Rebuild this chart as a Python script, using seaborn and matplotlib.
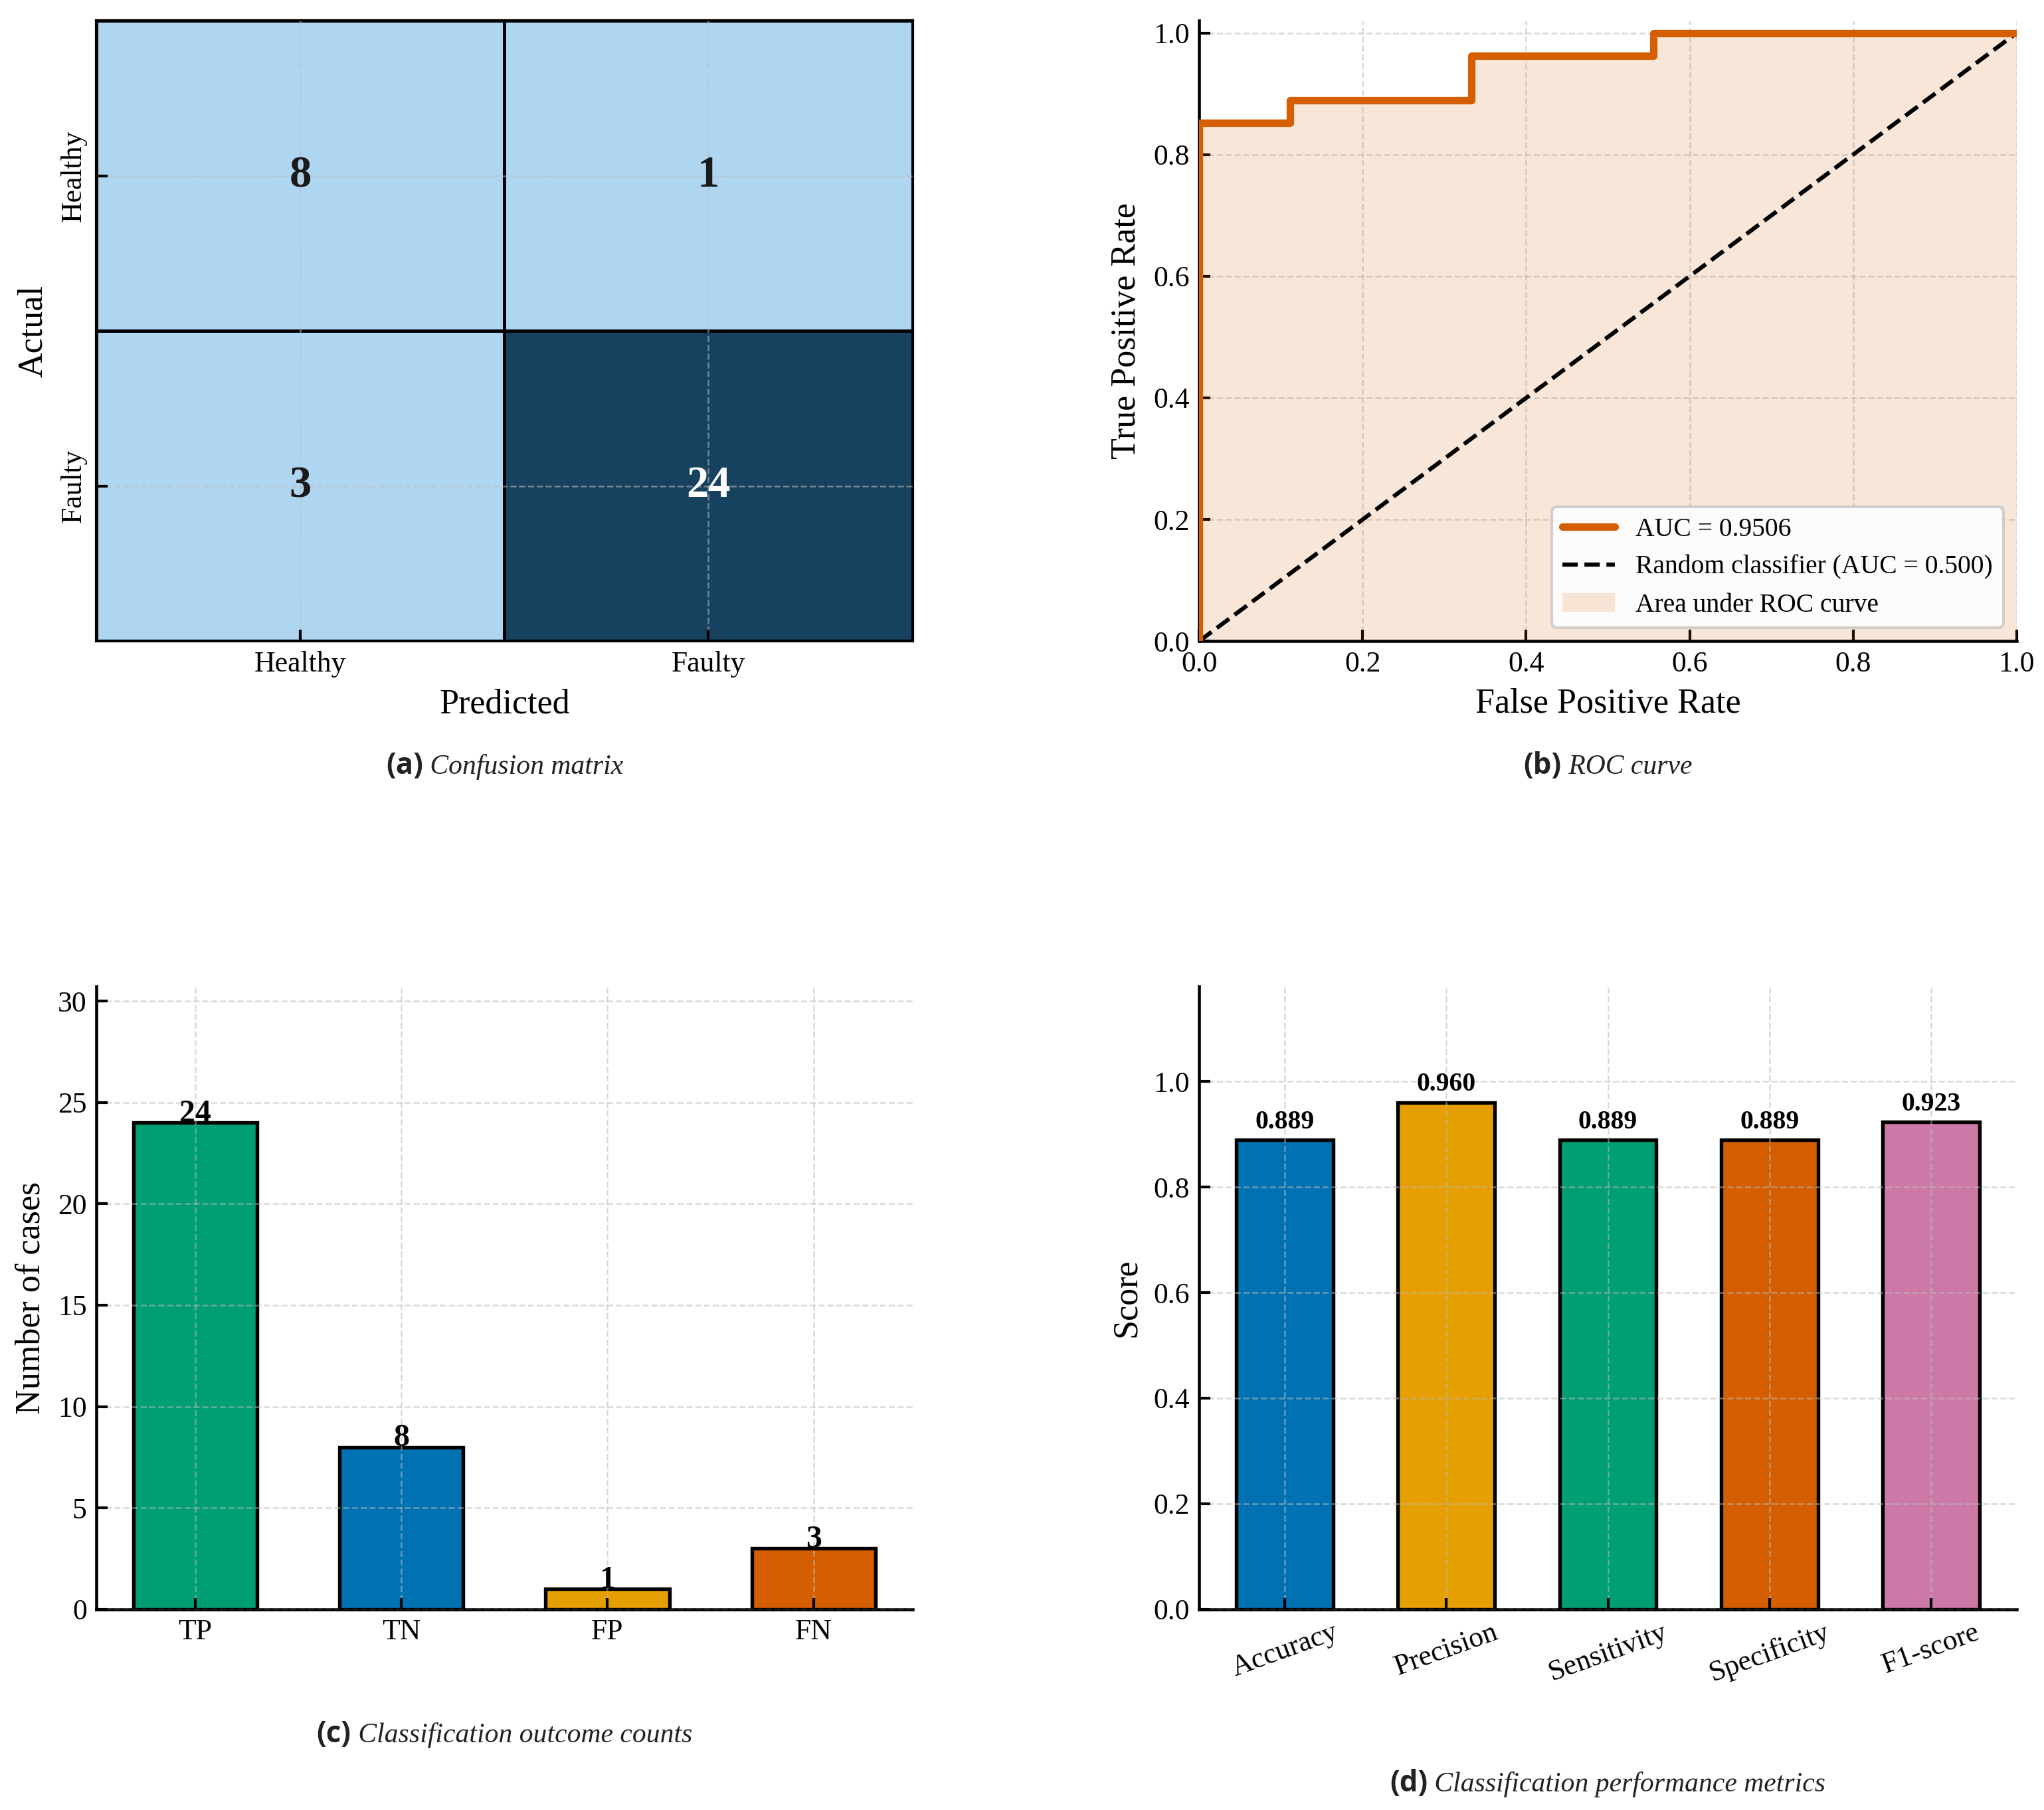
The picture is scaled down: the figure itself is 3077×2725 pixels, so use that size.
import numpy as np
import pandas as pd
import matplotlib
matplotlib.use("Agg")
import matplotlib.pyplot as plt
import seaborn as sns
from matplotlib.colors import ListedColormap

# ---------------- data ----------------
classes = ["Healthy", "Faulty"]
cm_values = [[8, 1], [3, 24]]

fpr = [0.0, 0.0, 0.1111, 0.1111, 0.3333, 0.3333, 0.5556, 0.5556, 1.0]
tpr = [0.0, 0.8519, 0.8519, 0.8889, 0.8889, 0.9630, 0.9630, 1.0, 1.0]
auc_label = "AUC = 0.9506"
random_label = "Random classifier (AUC = 0.500)"
area_label = "Area under ROC curve"

outcome_labels = ["TP", "TN", "FP", "FN"]
outcome_counts = [24, 8, 1, 3]

metric_labels = ["Accuracy", "Precision", "Sensitivity", "Specificity", "F1-score"]
metric_values = [0.889, 0.960, 0.889, 0.889, 0.923]

captions = [("(a)", "Confusion matrix"), ("(b)", "ROC curve"),
            ("(c)", "Classification outcome counts"),
            ("(d)", "Classification performance metrics")]

# ---------------- style ----------------
BLUE, ORANGE, GREEN, VERM, PINK = "#0072B2", "#E69F00", "#009E73", "#D55E00", "#CC79A7"
sns.set_style("ticks")
plt.rcParams.update({
    "font.family": ["Liberation Serif", "DejaVu Serif"],
    "xtick.direction": "in", "ytick.direction": "in",
    "xtick.major.size": 4, "ytick.major.size": 4,
    "xtick.major.width": 1.0, "ytick.major.width": 1.0,
    "axes.linewidth": 1.1, "axes.edgecolor": "black",
    "xtick.color": "black", "ytick.color": "black",
    "xtick.labelsize": 10.5, "ytick.labelsize": 10.5,
    "axes.labelsize": 12.5, "axes.labelcolor": "black",
    "text.color": "black",
})

W_PX, H_PX = 3077, 2725
fig = plt.figure(figsize=(W_PX / 300, H_PX / 300), dpi=300)

axA = fig.add_axes([0.0472, 0.6458, 0.3992, 0.3427])
axB = fig.add_axes([0.5867, 0.6458, 0.3999, 0.3427])
axC = fig.add_axes([0.0472, 0.1109, 0.3992, 0.3441])
axD = fig.add_axes([0.5867, 0.1109, 0.3999, 0.3441])

grid_kw = dict(linestyle="--", linewidth=0.6, color="#bbbbbb", alpha=0.55)

# ---------------- (a) confusion matrix ----------------
cm_df = pd.DataFrame(cm_values, index=classes, columns=classes)
cmap = ListedColormap(["#AED6F1", "#17425F"])
sns.heatmap(cm_df, annot=True, fmt="d", cmap=cmap, cbar=False, vmin=1, vmax=24,
            linewidths=1.1, linecolor="black", square=False,
            annot_kws={"size": 16, "weight": "bold"}, ax=axA)
for t in axA.texts:
    if t.get_color() != "w" and t.get_color() != (1, 1, 1, 1):
        t.set_color("#1a1a1a")
axA.set_xlabel("Predicted")
axA.set_ylabel("Actual")
axA.set_yticklabels(classes, rotation=90, va="center")
axA.set_xticklabels(classes, rotation=0)
for s in axA.spines.values():
    s.set_visible(True)
    s.set_linewidth(1.0)
axA.set_axisbelow(False)
axA.grid(True, **grid_kw)
axA.tick_params(direction="in", length=4, width=1.0)

# ---------------- (b) ROC curve ----------------
axB.fill_between(fpr, tpr, 0, color=VERM, alpha=0.15, linewidth=0, label=area_label, zorder=1)
sns.lineplot(x=fpr, y=tpr, sort=False, estimator=None, color=VERM, linewidth=2.7,
             label=auc_label, ax=axB, zorder=3)
sns.lineplot(x=[0, 1], y=[0, 1], sort=False, estimator=None, color="black",
             linestyle="--", linewidth=1.5, label=random_label, ax=axB, zorder=2)
axB.set_xlim(0, 1.0)
axB.set_ylim(0, 1.02)
axB.set_xticks(np.arange(0, 1.01, 0.2))
axB.set_yticks(np.arange(0, 1.01, 0.2))
axB.set_xlabel("False Positive Rate")
axB.set_ylabel("True Positive Rate")
axB.grid(True, **grid_kw)
h, l = axB.get_legend_handles_labels()
order = [l.index(auc_label), l.index(random_label), l.index(area_label)]
leg = axB.legend([h[i] for i in order], [l[i] for i in order], loc="lower right",
                 fontsize=9.5, frameon=True, fancybox=True, framealpha=0.9,
                 edgecolor="#cccccc")
sns.despine(ax=axB)

# ---------------- (c) outcome counts ----------------
sns.barplot(x=outcome_labels, y=outcome_counts, hue=outcome_labels,
            palette=[GREEN, BLUE, ORANGE, VERM], saturation=1, width=0.6,
            edgecolor="black", linewidth=1.3, legend=False, ax=axC)
for i, v in enumerate(outcome_counts):
    axC.text(i, v + 0.05, str(v), ha="center", va="baseline", fontsize=11.5, fontweight="bold")
axC.set_xlim(-0.48, 3.48)
axC.set_ylim(0, 30.72)
axC.set_yticks(np.arange(0, 31, 5))
axC.set_ylabel("Number of cases")
axC.set_xlabel("")
axC.set_axisbelow(False)
axC.grid(True, **grid_kw)
sns.despine(ax=axC)

# ---------------- (d) metrics ----------------
sns.barplot(x=metric_labels, y=metric_values, hue=metric_labels,
            palette=[BLUE, ORANGE, GREEN, VERM, PINK], saturation=1, width=0.6,
            edgecolor="black", linewidth=1.3, legend=False, ax=axD)
for i, v in enumerate(metric_values):
    axD.text(i, v + 0.022, f"{v:.3f}", ha="center", va="baseline", fontsize=9.5, fontweight="bold")
axD.set_xlim(-0.53, 4.53)
axD.set_ylim(0, 1.18)
axD.set_yticks(np.arange(0, 1.01, 0.2))
axD.set_yticklabels([f"{t:.1f}" for t in np.arange(0, 1.01, 0.2)])
axD.set_xticks(range(len(metric_labels)))
axD.set_xticklabels(metric_labels, rotation=20, ha="center")
axD.set_ylabel("Score")
axD.set_xlabel("")
axD.set_axisbelow(False)
axD.grid(True, **grid_kw)
sns.despine(ax=axD)

# ---------------- captions ----------------
cap_pos = [(0.2468, 0.5724), (0.7866, 0.5724), (0.2468, 0.0374), (0.7866, 0.0101)]
fig.canvas.draw()
renderer = fig.canvas.get_renderer()
for (tag, txt), (cx, cy) in zip(captions, cap_pos):
    t1 = fig.text(cx, cy, tag, fontfamily=["Open Sans", "Noto Sans", "DejaVu Sans"],
                  fontweight="bold", fontsize=10.5, ha="left", va="baseline", color="#222222")
    t2 = fig.text(cx, cy, " " + txt, fontfamily=["Liberation Serif"], fontstyle="italic",
                  fontsize=10, ha="left", va="baseline", color="#222222")
    w1 = t1.get_window_extent(renderer).width
    w2 = t2.get_window_extent(renderer).width
    x0 = cx * W_PX - (w1 + w2) / 2
    t1.set_x(x0 / W_PX)
    t2.set_x((x0 + w1) / W_PX)

fig.savefig("out.png", dpi=300)
